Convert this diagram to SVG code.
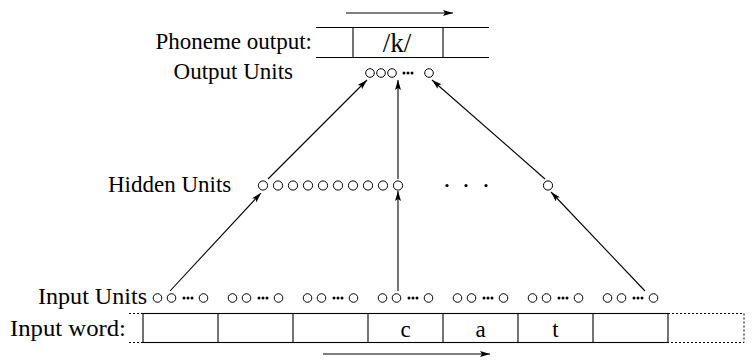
<svg xmlns="http://www.w3.org/2000/svg" width="755" height="360" viewBox="0 0 755 360">
<style>
text{font-family:"Liberation Serif","Times New Roman",serif;font-size:23px;fill:#000}
.u{fill:#fff;stroke:#000;stroke-width:1}
.d{fill:#000}
.ln{stroke:#000;stroke-width:1.1;fill:none}
.dot{stroke:#000;stroke-width:1;fill:none;stroke-dasharray:2,2}
.ar{stroke:#000;stroke-width:1.1;fill:none;marker-end:url(#ah)}
</style>
<defs>
<marker id="ah" viewBox="0 0 10 6" refX="10" refY="3" markerWidth="10" markerHeight="6" markerUnits="userSpaceOnUse" orient="auto">
<path d="M0,0 L10,3 L0,6 L2,3 z" fill="#000"/>
</marker>
<g id="grp">
<circle class="u" cx="-23" cy="0" r="4.3"/>
<circle class="u" cx="-9" cy="0" r="4.3"/>
<circle class="d" cx="3.5" cy="0" r="1.5"/>
<circle class="d" cx="7.5" cy="0" r="1.5"/>
<circle class="d" cx="11.5" cy="0" r="1.5"/>
<circle class="u" cx="23" cy="0" r="4.3"/>
</g>
</defs>
<rect width="755" height="360" fill="#fff"/>

<g id="phoneme-output">
<text x="312" y="49" text-anchor="end">Phoneme output:</text>
<line class="ln" x1="316" y1="27.5" x2="489" y2="27.5"/>
<line class="ln" x1="316" y1="57.5" x2="489" y2="57.5"/>
<line class="ln" x1="353" y1="27.5" x2="353" y2="57.5"/>
<line class="ln" x1="443" y1="27.5" x2="443" y2="57.5"/>
<text x="397" y="52" text-anchor="middle" style="font-size:27px">/k/</text>
</g>

<g id="output-units">
<text x="293" y="79" text-anchor="end">Output Units</text>
<circle class="u" cx="370" cy="73" r="4.3"/>
<circle class="u" cx="381" cy="73" r="4.3"/>
<circle class="u" cx="392" cy="73" r="4.3"/>
<circle class="d" cx="404" cy="73" r="1.5"/>
<circle class="d" cx="408" cy="73" r="1.5"/>
<circle class="d" cx="412" cy="73" r="1.5"/>
<circle class="u" cx="429" cy="73" r="4.3"/>
</g>

<g id="hidden-units">
<text x="108" y="192">Hidden Units</text>
<circle class="u" cx="263" cy="185.5" r="4.6"/>
<circle class="u" cx="278" cy="185.5" r="4.6"/>
<circle class="u" cx="293" cy="185.5" r="4.6"/>
<circle class="u" cx="308" cy="185.5" r="4.6"/>
<circle class="u" cx="323" cy="185.5" r="4.6"/>
<circle class="u" cx="338" cy="185.5" r="4.6"/>
<circle class="u" cx="353" cy="185.5" r="4.6"/>
<circle class="u" cx="368" cy="185.5" r="4.6"/>
<circle class="u" cx="383" cy="185.5" r="4.6"/>
<circle class="u" cx="398" cy="185.5" r="4.6"/>
<circle class="d" cx="447" cy="185.5" r="1.6"/>
<circle class="d" cx="466" cy="185.5" r="1.6"/>
<circle class="d" cx="486" cy="185.5" r="1.6"/>
<circle class="u" cx="548" cy="185.5" r="4.6"/>
</g>

<g id="input-units">
<text x="38" y="304" textLength="109" lengthAdjust="spacingAndGlyphs">Input Units</text>
<use href="#grp" x="180.5" y="298"/>
<use href="#grp" x="255.5" y="298"/>
<use href="#grp" x="330.5" y="298"/>
<use href="#grp" x="405.5" y="298"/>
<use href="#grp" x="480.5" y="298"/>
<use href="#grp" x="555.5" y="298"/>
<use href="#grp" x="630.5" y="298"/>
</g>

<g id="input-word">
<text x="10" y="336" textLength="116" lengthAdjust="spacingAndGlyphs">Input word:</text>
<line class="dot" x1="129" y1="313.5" x2="143" y2="313.5"/>
<line class="dot" x1="129" y1="342.5" x2="143" y2="342.5"/>
<rect class="ln" x="143" y="313.5" width="525" height="29"/>
<line class="ln" x1="218" y1="313.5" x2="218" y2="342.5"/>
<line class="ln" x1="293" y1="313.5" x2="293" y2="342.5"/>
<line class="ln" x1="368" y1="313.5" x2="368" y2="342.5"/>
<line class="ln" x1="443" y1="313.5" x2="443" y2="342.5"/>
<line class="ln" x1="518" y1="313.5" x2="518" y2="342.5"/>
<line class="ln" x1="593" y1="313.5" x2="593" y2="342.5"/>
<polyline class="dot" points="668,313.5 744,313.5 744,342.5 668,342.5"/>
<text x="405.5" y="337" text-anchor="middle">c</text>
<text x="480.5" y="337" text-anchor="middle">a</text>
<text x="555.5" y="337" text-anchor="middle">t</text>
</g>

<g id="connectors">
<line class="ar" x1="346" y1="13" x2="453" y2="13"/>
<line class="ar" x1="323" y1="354" x2="490" y2="354"/>
<line class="ar" x1="170" y1="291" x2="261" y2="193"/>
<line class="ar" x1="398" y1="291" x2="398" y2="191"/>
<line class="ar" x1="645" y1="291" x2="551" y2="192"/>
<line class="ar" x1="268" y1="179" x2="367" y2="80"/>
<line class="ar" x1="398" y1="179" x2="398" y2="80"/>
<line class="ar" x1="545" y1="179" x2="432" y2="80"/>
</g>
</svg>
